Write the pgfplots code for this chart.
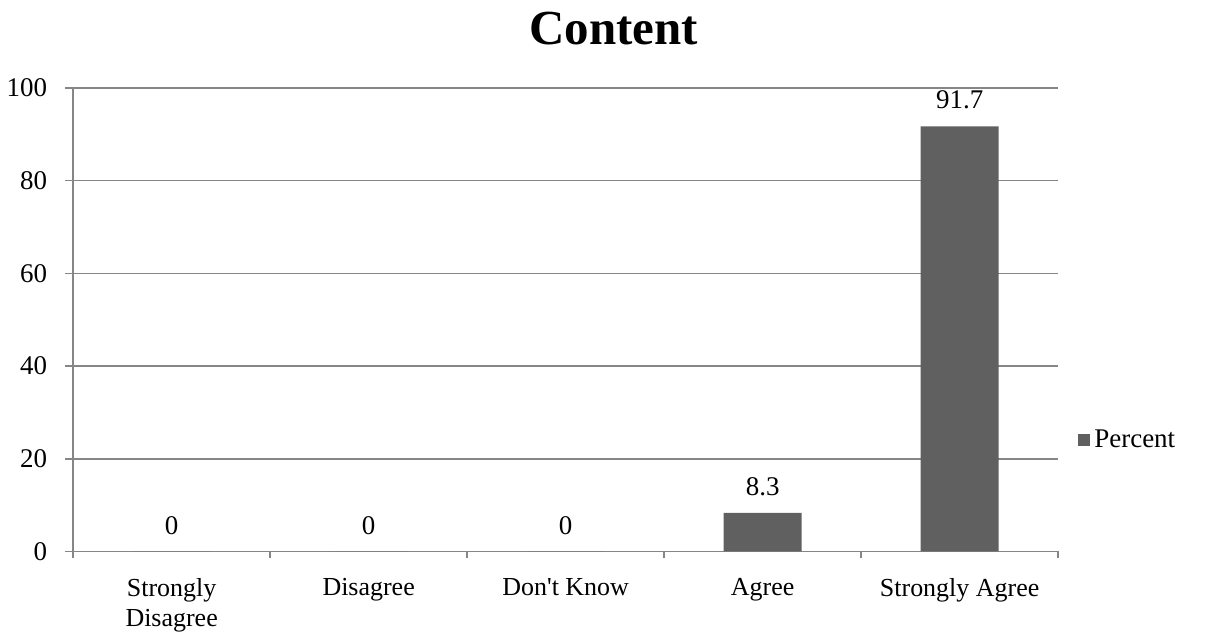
\documentclass[border=0pt]{standalone}
\usepackage{pgfplots}
\pgfplotsset{compat=1.18}
\usepackage{fontspec}
\setmainfont{Liberation Serif}
\definecolor{barc}{RGB}{96,96,96}
\definecolor{gridc}{RGB}{134,134,134}
\begin{document}
\begin{tikzpicture}
\begin{axis}[
  scale only axis,
  width=493pt, height=232pt,
  xmin=-0.5, xmax=4.5,
  ymin=0, ymax=100,
  ytick={0,20,40,60,80,100},
  xtick={0,1,2,3,4},
  xticklabels={{Strongly\\Disagree},{Disagree},{Don\textquotesingle{}t Know},{Agree},{Strongly Agree}},
  xticklabel style={align=center, font=\fontsize{13}{15}\selectfont, yshift=-6pt},
  yticklabel style={font=\fontsize{13.5}{15}\selectfont, xshift=-5.5pt},
  /pgf/number format/assume math mode=true,
  major x tick style={draw=none},
  minor xtick={-0.5,0.5,1.5,2.5,3.5,4.5},
  minor tick length=3.5pt,
  major tick length=4pt,
  tick align=outside,
  axis x line*=bottom,
  axis y line*=left,
  axis line style={draw=gridc, line width=0.8pt},
  every tick/.style={draw=gridc, line width=0.8pt},
  minor x tick style={draw=gridc, line width=0.8pt},
  ymajorgrids,
  grid style={draw=gridc, line width=0.8pt},
  ybar, bar width=0.396,
  nodes near coords,
  nodes near coords style={font=\fontsize{13.5}{15}\selectfont, text=black, yshift=5pt},
  point meta=explicit symbolic,
  legend style={at={(1.014,0.241)}, anchor=west, draw=none, fill=none, font=\fontsize{13.5}{15}\selectfont},
  legend image code/.code={\fill[#1] (0pt,-3pt) rectangle (6pt,3pt);},
  clip=false,
]
\addplot[fill=barc, draw=none] coordinates {(0,0) [0] (1,0) [0] (2,0) [0] (3,8.3) [8.3] (4,91.7) [91.7]};
\addlegendentry{Percent}
\node[font=\bfseries\fontsize{24.5}{28}\selectfont, anchor=base] at (rel axis cs:0.549,1.093) {Content};
\end{axis}
\path (current axis.south west) ++(-36pt,-41.5pt) rectangle ++(609.5pt,317.5pt);
\end{tikzpicture}
\end{document}
